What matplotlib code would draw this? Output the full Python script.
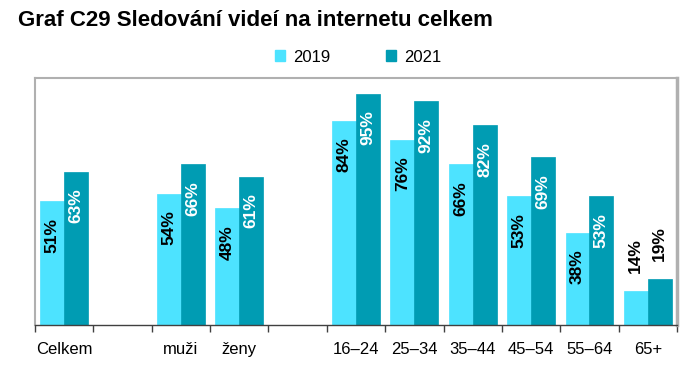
import numpy as np
import matplotlib
matplotlib.use("Agg")
import matplotlib.pyplot as plt

plt.rcParams['font.family'] = ['Liberation Sans', 'DejaVu Sans']

# data
categories = ['Celkem', '', 'muži', 'ženy', '', '16–24', '25–34', '35–44', '45–54', '55–64', '65+']
v2019 = [51, None, 54, 48, None, 84, 76, 66, 53, 38, 14]
v2021 = [63, None, 66, 61, None, 95, 92, 82, 69, 53, 19]
years = ['2019', '2021']
colors = ['#4de3ff', '#009cb3']

fig = plt.figure(figsize=(6.97, 3.68), dpi=100)
ax = fig.add_axes([35/697, 1 - 325/368, 642/697, 247/368])

x = np.arange(len(categories))
w = 0.41

for k, (vals, col) in enumerate(zip([v2019, v2021], colors)):
    off = (k - 0.5) * w
    for i, v in enumerate(vals):
        if v is None:
            continue
        ax.bar(x[i] + off, v, width=w, color=col, edgecolor=col, linewidth=0.5)
        lab = '%d%%' % v
        if v < 30:
            # small bars: label above the bar
            ax.annotate(lab, (x[i] + off, v), xytext=(0, 13), textcoords='offset points',
                        rotation=90, ha='center', va='bottom', fontsize=12.5,
                        fontweight='bold', color='black')
        else:
            ax.annotate(lab, (x[i] + off, v), xytext=(0, -12), textcoords='offset points',
                        rotation=90, ha='center', va='top', fontsize=12.5,
                        fontweight='bold', color='black' if k == 0 else 'white')

ax.set_xlim(-0.5, len(categories) - 0.5)
ax.set_ylim(0, 101.5)
ax.set_yticks([])

# category labels centered, tick marks on boundaries
ax.set_xticks(x)
ax.set_xticklabels(categories, fontsize=12)
ax.tick_params(axis='x', which='major', length=0, pad=12)
ax.set_xticks(np.arange(-0.5, len(categories)), minor=True)
ax.tick_params(axis='x', which='minor', length=5, width=1, color='#404040', direction='out')

for s in ['top', 'left', 'right']:
    ax.spines[s].set_color('#b0b0b0')
    ax.spines[s].set_linewidth(1.5)
ax.spines['right'].set_linewidth(2.5)
ax.spines['bottom'].set_color('#404040')
ax.spines['bottom'].set_linewidth(1)

handles = [plt.Rectangle((0, 0), 1, 1, color=c) for c in colors]
fig.legend(handles, years, loc='center', bbox_to_anchor=(358/697, 1 - 57/368), ncol=2,
           frameon=False, fontsize=12, handlelength=0.6, handleheight=0.6,
           handletextpad=0.5, columnspacing=3.3)

fig.text(18/697, 1 - 20/368, 'Graf C29 Sledování videí na internetu celkem',
         fontsize=16, fontweight='bold', va='center', ha='left')

fig.savefig('out.png', dpi=100)
